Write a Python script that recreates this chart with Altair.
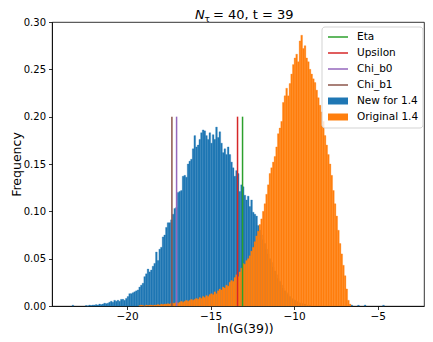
import altair as alt
import pandas as pd

# ---------------- data ----------------
BIN_W = 0.1

# "New for 1.4" (blue) histogram, visible part, left edges from -22.5 in steps of 0.1
BLUE_START = -22.5
blue_freq = [
    0.0005, 0.0, 0.001, 0.0005, 0.001, 0.001, 0.0015, 0.001, 0.002, 0.0015,
    0.002, 0.003, 0.0025, 0.003, 0.004, 0.005, 0.004, 0.006, 0.005, 0.006,
    0.005, 0.007, 0.007, 0.006, 0.008, 0.010, 0.013, 0.013, 0.014, 0.015,
    0.016, 0.017, 0.020, 0.022, 0.024, 0.031, 0.034, 0.039, 0.036, 0.038,
    0.042, 0.045, 0.057, 0.048, 0.060, 0.062, 0.073, 0.075, 0.083, 0.088,
    0.088, 0.091, 0.097, 0.103, 0.104, 0.120, 0.121, 0.122, 0.137, 0.138,
    0.136, 0.150, 0.153, 0.155, 0.166, 0.180, 0.168, 0.170, 0.176, 0.183,
    0.186, 0.185, 0.180, 0.176, 0.183, 0.172, 0.181, 0.176, 0.189, 0.178,
    0.184, 0.172, 0.162, 0.166, 0.160, 0.168, 0.160, 0.152, 0.146, 0.137,
    0.143, 0.140, 0.121, 0.128, 0.126, 0.117, 0.112, 0.116, 0.105, 0.112,
    0.099, 0.097, 0.095, 0.085, 0.080,
]
# blue continues underneath the orange histogram (estimated, hidden)
BLUE_TAIL_START = -12.0
blue_tail_freq = [
    0.075, 0.070, 0.066, 0.060, 0.055, 0.050, 0.046, 0.041, 0.037, 0.033,
    0.029, 0.026, 0.022, 0.019, 0.016, 0.014, 0.012, 0.010, 0.008, 0.007,
    0.006, 0.005, 0.004, 0.003, 0.003, 0.002, 0.002, 0.001, 0.001, 0.001,
]
# isolated blue counts
blue_outlier_left = [-23.3, -6.6, -6.2, -5.8, -4.7]
blue_outlier_freq = [0.0008, 0.001, 0.0008, 0.001, 0.0008]

# "Original 1.4" (orange) histogram, left edges from -19.3 in steps of 0.1
ORANGE_START = -19.3
orange_freq = [
    0.0005, 0.001, 0.0005, 0.0, 0.001, 0.0005, 0.001, 0.001, 0.0005, 0.001,
    0.001, 0.0015, 0.001, 0.002, 0.0015, 0.002, 0.002, 0.0025, 0.002, 0.003,
    0.003, 0.003, 0.004, 0.003, 0.004, 0.005, 0.004, 0.005, 0.006, 0.005,
    0.006, 0.007, 0.006, 0.007, 0.008, 0.007, 0.009, 0.008, 0.010, 0.009,
    0.011, 0.010, 0.012, 0.013, 0.012, 0.015, 0.013, 0.016, 0.018, 0.017,
    0.020, 0.019, 0.022, 0.021, 0.025, 0.027, 0.026, 0.030, 0.033, 0.031,
    0.036, 0.040, 0.045, 0.044, 0.048, 0.050, 0.053, 0.058, 0.062, 0.068,
    0.074, 0.079, 0.086, 0.092, 0.100, 0.108, 0.118, 0.128, 0.140, 0.146,
    0.152, 0.158, 0.168, 0.182, 0.188, 0.195, 0.215, 0.222, 0.230, 0.222,
    0.235, 0.245, 0.255, 0.262, 0.266, 0.258, 0.280, 0.286, 0.272, 0.275,
    0.262, 0.258, 0.250, 0.245, 0.240, 0.236, 0.228, 0.220, 0.212, 0.205,
    0.195, 0.180, 0.170, 0.160, 0.150, 0.138, 0.122, 0.108, 0.095, 0.080,
    0.066, 0.055, 0.043, 0.032, 0.018, 0.006, 0.002,
]

line_names = ["Eta", "Upsilon", "Chi_b0", "Chi_b1"]
line_pos = [-13.09, -13.39, -17.04, -17.32]
line_height = [0.2, 0.2, 0.2, 0.2]
line_colors = ["#2ca02c", "#d62728", "#9467bd", "#8c564b"]

series_names = ["New for 1.4", "Original 1.4"]
series_colors = ["#1f77b4", "#ff7f0e"]

x_ticks = [-20, -15, -10, -5]
y_ticks = [0, 0.05, 0.10, 0.15, 0.20, 0.25, 0.30]

# ---------------- tables ----------------
def bins(start, vals, name):
    rows = []
    for i, v in enumerate(vals):
        x0 = start + i * BIN_W
        rows.append({"x0": x0, "x1": x0 + BIN_W, "freq": v, "base": 0.0, "series": name})
    return rows

blue_rows = bins(BLUE_START, blue_freq, series_names[0]) + bins(BLUE_TAIL_START, blue_tail_freq, series_names[0])
for xl, f in zip(blue_outlier_left, blue_outlier_freq):
    blue_rows.append({"x0": xl, "x1": xl + BIN_W, "freq": f, "base": 0.0, "series": series_names[0]})
blue_df = pd.DataFrame(blue_rows)
orange_df = pd.DataFrame(bins(ORANGE_START, orange_freq, series_names[1]))
lines_df = pd.DataFrame({"name": line_names, "pos": line_pos, "top": line_height, "base": [0.0] * 4})

FONT = "DejaVu Sans"
W, H = 372, 284
PAD_L, PAD_T, PAD_R = 44, 14, 1
PAD_B = 326 - PAD_T - H
BOX_X, BOX_Y, ROW = 270, 5, 16

xscale = alt.Scale(domain=[-24.5, -24.5 + W / 16.7], nice=False, zero=False)
yscale = alt.Scale(domain=[0, 0.3], nice=False)
fill_scale = alt.Scale(domain=series_names, range=series_colors)
stroke_scale = alt.Scale(domain=line_names, range=line_colors)

xaxis = alt.Axis(values=x_ticks, format="d", title="ln(G(39))", grid=False,
                 tickSize=3.5, labelPadding=2, titlePadding=0, titleX=193)
yaxis = alt.Axis(values=y_ticks, format=".2f", title="Frequency", grid=False,
                 tickSize=3.5, labelPadding=3, titlePadding=0, labelFontSize=10)

common_leg = dict(title=None, orient="none", labelFont=FONT, labelFontSize=10.5,
                  labelColor="black", padding=0, rowPadding=4, labelOffset=13)
# both legends get the same entry size: ceil(sqrt(size) + strokeWidth) = 12
line_legend = alt.Legend(legendX=BOX_X + 10, legendY=BOX_Y + 4,
                         symbolSize=100, symbolType="M-2,0H2", symbolStrokeWidth=1.5,
                         **common_leg)
bar_legend = alt.Legend(legendX=BOX_X + 10, legendY=BOX_Y + 4 + 4 * ROW,
                        symbolSize=144, symbolType="M-1.667,-0.583H1.667V0.583H-1.667Z",
                        symbolStrokeWidth=0, **common_leg)

blue = alt.Chart(blue_df).mark_rect(stroke=series_colors[0], strokeWidth=0.3).encode(
    x=alt.X("x0:Q", scale=xscale, axis=xaxis),
    x2="x1:Q",
    y=alt.Y("freq:Q", scale=yscale, axis=yaxis),
    y2="base:Q",
    fill=alt.Fill("series:N", scale=fill_scale, legend=bar_legend),
)
orange = alt.Chart(orange_df).mark_rect(stroke=series_colors[1], strokeWidth=0.3).encode(
    x=alt.X("x0:Q", scale=xscale),
    x2="x1:Q",
    y=alt.Y("freq:Q", scale=yscale),
    y2="base:Q",
    fill=alt.Fill("series:N", scale=fill_scale, legend=bar_legend),
)
rules = alt.Chart(lines_df).mark_rule(strokeWidth=1.5).encode(
    x=alt.X("pos:Q", scale=xscale),
    y=alt.Y("base:Q", scale=yscale),
    y2="top:Q",
    stroke=alt.Stroke("name:N", scale=stroke_scale, legend=line_legend),
)

one = pd.DataFrame({"k": [0]})
legend_box = alt.Chart(one).mark_rect(
    fill="white", fillOpacity=0.8, stroke="#d3d3d3", strokeWidth=1, cornerRadius=3
).encode(x=alt.value(BOX_X), x2=alt.value(BOX_X + 101), y=alt.value(BOX_Y),
         y2=alt.value(BOX_Y + 101))

t_n = alt.Chart(one).mark_text(text="N", font=FONT, fontSize=13, fontStyle="italic",
                               align="left", baseline="alphabetic", color="black").encode(
    x=alt.value(143), y=alt.value(-3))
t_tau = alt.Chart(one).mark_text(text="τ", font=FONT, fontSize=9,
                                 align="left", baseline="alphabetic", color="black").encode(
    x=alt.value(152.5), y=alt.value(-0.5))
t_rest = alt.Chart(one).mark_text(text="= 40, t = 39", font=FONT, fontSize=13,
                                  align="left", baseline="alphabetic", color="black").encode(
    x=alt.value(161), y=alt.value(-3))

chart = alt.layer(blue, orange, rules, legend_box, t_n, t_tau, t_rest).properties(
    width=W, height=H,
    autosize=alt.AutoSizeParams(type="none"),
    padding={"left": PAD_L, "top": PAD_T, "right": PAD_R, "bottom": PAD_B},
).configure_view(stroke="black", strokeWidth=0.8).configure_axis(
    domainColor="black", domainWidth=0.8, tickColor="black", tickWidth=0.8,
    labelColor="black", titleColor="black", labelFont=FONT, titleFont=FONT,
    labelFontSize=10.5, titleFontSize=12.5, titleFontWeight="normal",
)

chart.save("out.html", embed_options={"renderer": "svg", "actions": False})
